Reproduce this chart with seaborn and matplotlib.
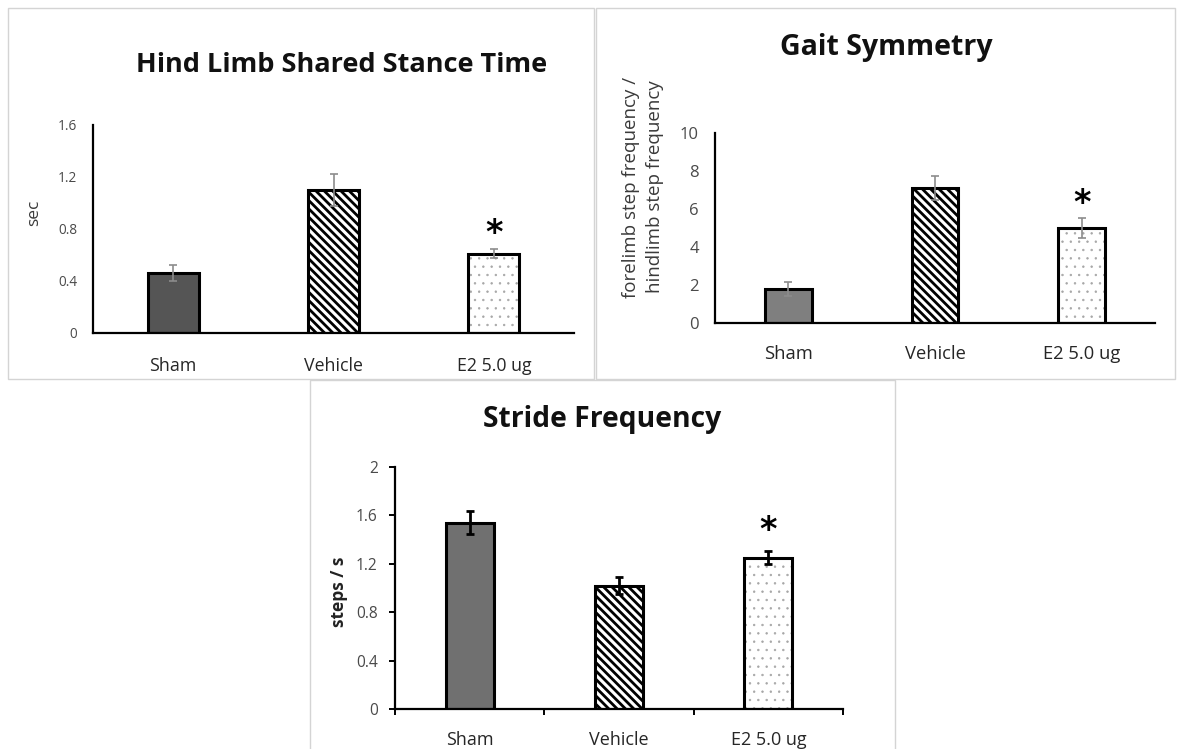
import numpy as np
import pandas as pd
import matplotlib
matplotlib.use("Agg")
import matplotlib.pyplot as plt
from matplotlib.patches import Rectangle
import seaborn as sns

# ---- data -------------------------------------------------------------
groups = ["Sham", "Vehicle", "E2 5.0 ug"]

stance_mean = [0.46, 1.10, 0.61]
stance_sem = [0.06, 0.12, 0.035]
stance_ticks = [0, 0.4, 0.8, 1.2, 1.6]

symmetry_mean = [1.8, 7.1, 5.0]
symmetry_sem = [0.38, 0.65, 0.54]
symmetry_ticks = [0, 2, 4, 6, 8, 10]

stride_mean = [1.54, 1.02, 1.25]
stride_sem = [0.095, 0.07, 0.055]
stride_ticks = [0, 0.4, 0.8, 1.2, 1.6, 2]

significant = [False, False, True]

# ---- style ------------------------------------------------------------
sns.set_theme(style="white")
plt.rcParams["font.family"] = ["Open Sans", "DejaVu Sans"]
plt.rcParams["hatch.linewidth"] = 2.0

W, H = 1179, 749
fig = plt.figure(figsize=(W / 100, H / 100), dpi=100)
fig.patch.set_facecolor("white")


def px_axes(x0, y0, x1, y1):
    return fig.add_axes([x0 / W, 1 - y1 / H, (x1 - x0) / W, (y1 - y0) / H])


def px_text(x, y, s, **kw):
    return fig.text(x / W, 1 - y / H, s, **kw)


def px_frame(x0, y0, x1, y1):
    fig.add_artist(Rectangle((x0 / W, 1 - y1 / H), (x1 - x0) / W, (y1 - y0) / H,
                             transform=fig.transFigure, fill=False,
                             edgecolor="#d4d4d4", linewidth=1.0))


def draw_panel(ax, means, errs, ticks, sham_color, err_color, err_lw,
               star_offset, tick_size, cat_size, ypad, xpad, boxed_ticks=False):
    df = pd.DataFrame({"group": groups, "value": means})
    n0 = len(ax.patches)
    sns.barplot(data=df, x="group", y="value", hue="group",
                palette=[sham_color, "white", "white"], legend=False,
                width=0.32, linewidth=0, errorbar=None, ax=ax, zorder=2)
    bars = ax.patches[n0:]
    bars[1].set_edgecolor("black")
    bars[1].set_hatch("\\\\\\\\")
    bars[2].set_edgecolor("#a6a6a6")
    bars[2].set_hatch("..")
    if hasattr(bars[2], "set_hatch_linewidth"):
        bars[2].set_hatch_linewidth(0.5)
    # outlines on top of the fills
    sns.barplot(data=df, x="group", y="value", fill=False, color="black",
                width=0.32, linewidth=2.2, errorbar=None, ax=ax, zorder=2.5)

    x = np.arange(len(groups))
    ax.errorbar(x, means, yerr=errs, fmt="none", ecolor=err_color,
                elinewidth=err_lw, capsize=3, capthick=err_lw, zorder=3)

    for xi, m, e, sig in zip(x, means, errs, significant):
        if sig:
            ax.annotate("*", xy=(xi, m + e), xytext=(0, star_offset),
                        textcoords="offset points", ha="center", va="center",
                        fontsize=24, fontweight="bold", color="black",
                        family="DejaVu Sans")

    ax.set_xlim(-0.5, 2.5)
    ax.set_ylim(ticks[0], ticks[-1])
    ax.set_yticks(ticks)
    ax.set_yticklabels([f"{t:g}" for t in ticks])
    ax.set_xlabel("")
    ax.set_ylabel("")
    for side in ("top", "right"):
        ax.spines[side].set_visible(False)
    for side in ("left", "bottom"):
        ax.spines[side].set_color("black")
        ax.spines[side].set_linewidth(1.6)
    ax.set_facecolor("none")

    if boxed_ticks:
        ax.set_xticks([-0.5, 0.5, 1.5, 2.5], minor=True)
        ax.tick_params(axis="x", which="minor", length=4.5, width=1.4,
                       direction="out", color="black", bottom=True)
        ax.tick_params(axis="x", which="major", length=0, bottom=True)
        ax.tick_params(axis="y", which="major", length=4, width=1.4,
                       direction="out", color="black", left=True)
    else:
        ax.tick_params(axis="both", length=0)
    ax.tick_params(axis="y", labelsize=tick_size, labelcolor="#4a4a4a", pad=ypad)
    ax.tick_params(axis="x", labelsize=cat_size, labelcolor="#262626", pad=xpad)


# panel frames
px_frame(8, 8, 594, 379)
px_frame(596, 8, 1175, 379)
px_frame(310, 380, 895, 760)

# ---- Hind Limb Shared Stance Time ------------------------------------
ax1 = px_axes(93, 125, 574, 333)
draw_panel(ax1, stance_mean, stance_sem, stance_ticks, "#555555", "#8c8c8c",
           1.2, 11, 9.8, 12.8, 11.5, 17)
px_text(342, 65, "Hind Limb Shared Stance Time", ha="center", va="center",
        fontsize=19.5, fontweight="bold", color="#111111")
px_text(34, 213, "sec", ha="center", va="center", rotation=90,
        fontsize=12.5, color="#3a3a3a")

# ---- Gait Symmetry ----------------------------------------------------
ax2 = px_axes(715, 133, 1155, 323)
draw_panel(ax2, symmetry_mean, symmetry_sem, symmetry_ticks, "#7f7f7f",
           "#8c8c8c", 1.2, 10, 12, 13.2, 11.5, 15.5)
px_text(886, 48, "Gait Symmetry", ha="center", va="center",
        fontsize=20.5, fontweight="bold", color="#111111")
px_text(643, 187, "forelimb step frequency /\nhindlimb step frequency",
        ha="center", va="center", rotation=90, fontsize=13.5,
        linespacing=1.5, color="#3a3a3a")

# ---- Stride Frequency -------------------------------------------------
ax3 = px_axes(395, 467, 843, 709)
draw_panel(ax3, stride_mean, stride_sem, stride_ticks, "#707070", "black",
           2.0, 15, 11.2, 13, 8.5, 15.5, boxed_ticks=True)
px_text(602, 420, "Stride Frequency", ha="center", va="center",
        fontsize=20.3, fontweight="bold", color="#111111")
px_text(339, 592, "steps / s", ha="center", va="center", rotation=90,
        fontsize=12.5, fontweight="bold", color="#222222")

fig.savefig("out.png", dpi=100, facecolor="white")
